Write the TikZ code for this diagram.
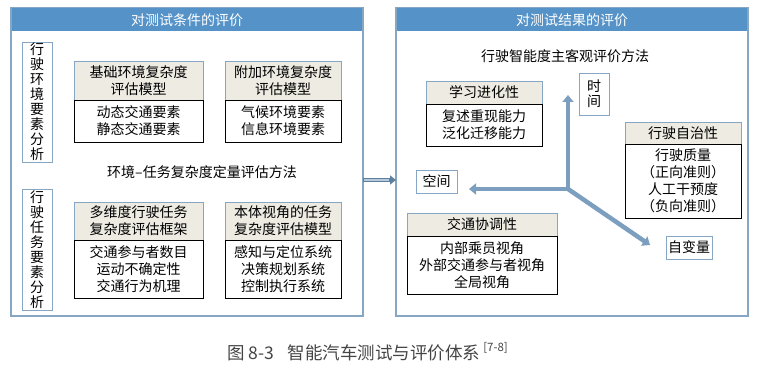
\documentclass[tikz,border=0pt]{standalone}
\usepackage{fontspec}
\setmainfont{Noto Sans CJK SC}
\usetikzlibrary{arrows.meta}
\definecolor{band}{HTML}{5592C8}
\definecolor{frame}{HTML}{86A6C4}
\definecolor{beige}{HTML}{EEEBE3}
\definecolor{axis}{HTML}{7C9EBF}
\definecolor{capc}{HTML}{444444}
\definecolor{link}{HTML}{5F7F9F}
\begin{document}
\begin{tikzpicture}[x=1pt,y=-1pt,
  every node/.style={inner sep=0pt,outer sep=0pt,align=center,font=\fontsize{14}{17}\selectfont},
  panel/.style={draw=frame,line width=1.8pt},
  bandbox/.style={fill=band,text=white,minimum width=350pt,minimum height=23pt},
  hdr/.style={draw=frame,fill=beige,line width=0.9pt},
  bodybox/.style={draw=black,line width=0.9pt},
  tag/.style={draw=frame,line width=0.9pt},
  axisarrow/.style={draw=axis,line width=4.5pt,-{Triangle[length=7pt,width=11pt]}},
  plain/.style={}]
\useasboundingbox (0,0) rectangle (758,366);
% panels
\node[panel,minimum width=352pt,minimum height=308pt] (lp) at (187,162) {};
\node[panel,minimum width=352pt,minimum height=308pt] (rp) at (572,162) {};
\node[bandbox] (lt) at (187,20) {对测试条件的评价};
\node[bandbox] (rt) at (572,20) {对测试结果的评价};
% left side
\node[tag,minimum width=30pt,minimum height=120pt,font=\fontsize{14}{15}\selectfont] (v1) at (37,102) {行\\驶\\环\\境\\要\\素\\分\\析};
\node[tag,minimum width=30pt,minimum height=121pt,font=\fontsize{14}{15}\selectfont] (v2) at (37,249.5) {行\\驶\\任\\务\\要\\素\\分\\析};
\node[hdr,minimum width=129pt,minimum height=39pt] (ah) at (138.5,80.5) {基础环境复杂度\\评估模型};
\node[bodybox,minimum width=129pt,minimum height=42pt] (ab) at (138.5,121) {动态交通要素\\静态交通要素};
\node[hdr,minimum width=116pt,minimum height=39pt] (bh) at (283,80.5) {附加环境复杂度\\评估模型};
\node[bodybox,minimum width=116pt,minimum height=42pt] (bb) at (283,121) {气候环境要素\\信息环境要素};
\node[plain] (mid) at (202,172) {环境–任务复杂度定量评估方法};
\node[hdr,minimum width=129pt,minimum height=38pt] (ch) at (138.5,221) {多维度行驶任务\\复杂度评估框架};
\node[bodybox,minimum width=129pt,minimum height=58pt] (cb) at (138.5,269) {交通参与者数目\\运动不确定性\\交通行为机理};
\node[hdr,minimum width=116pt,minimum height=38pt] (dh) at (283,221) {本体视角的任务\\复杂度评估模型};
\node[bodybox,minimum width=116pt,minimum height=58pt] (db) at (283,269) {感知与定位系统\\决策规划系统\\控制执行系统};
% right side
\node[plain] (rtitle) at (565,56) {行驶智能度主客观评价方法};
\node[hdr,minimum width=116pt,minimum height=23pt] (eh) at (484,92.5) {学习进化性};
\node[bodybox,minimum width=116pt,minimum height=42pt] (eb) at (484,125) {复述重现能力\\泛化迁移能力};
\node[tag,minimum width=30pt,minimum height=42pt,font=\fontsize{14}{15}\selectfont] (time) at (594,94) {时\\间};
\node[hdr,minimum width=116pt,minimum height=22pt] (fh) at (683,133) {行驶自治性};
\node[bodybox,minimum width=116pt,minimum height=74pt] (fb) at (683,181) {行驶质量\\（正向准则）\\人工干预度\\（负向准则）};
\node[tag,minimum width=41pt,minimum height=23pt] (space) at (436.5,181.5) {空间};
\node[hdr,minimum width=150pt,minimum height=23pt] (gh) at (482,224.5) {交通协调性};
\node[bodybox,minimum width=150pt,minimum height=58pt] (gb) at (482,265) {内部乘员视角\\外部交通参与者视角\\全局视角};
\node[tag,minimum width=46pt,minimum height=23pt] (var) at (689,247.5) {自变量};
% axes
\coordinate (o) at (568,189);
\coordinate (up) at (568,95);
\coordinate (lf) at (469,189);
\coordinate (dg) at (650,245);
\draw[axisarrow] (o) -- (up);
\draw[axisarrow] (o) -- (lf);
\draw[axisarrow] (o) -- (dg);
% link between panels
\coordinate (la) at (lp.east |- 0,180);
\coordinate (ra) at (rp.west |- 0,180);
\draw[draw=link,line width=3.5pt,-{Triangle[length=6pt,width=9pt]}] (la) -- (ra);
\draw[draw=frame!60!white,line width=1.2pt] ([xshift=1pt]la) -- ([xshift=-7pt]ra);
% caption
\node[anchor=west,text=capc,font=\fontsize{17.5}{20}\selectfont] (cap) at (227,352) {图 8-3\hspace{0.8em}智能汽车测试与评价体系\,\raisebox{0.45em}{\fontsize{11.5}{13}\selectfont [7-8]}};
\end{tikzpicture}
\end{document}
